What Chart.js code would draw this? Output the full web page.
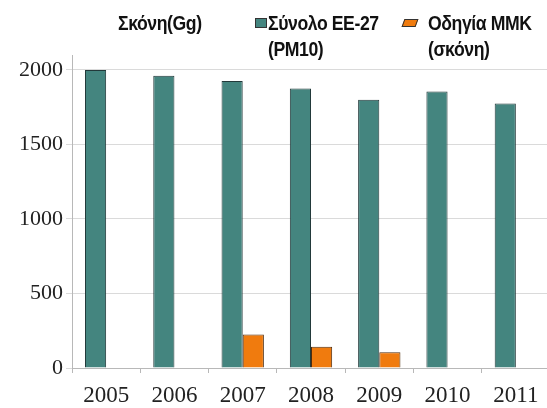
<!DOCTYPE html>
<html>
<head>
<meta charset="utf-8">
<script src="https://cdn.jsdelivr.net/npm/chart.js@4/dist/chart.umd.min.js"></script>
<style>
  html, body { margin: 0; padding: 0; background: #fff; }
  #wrap { position: relative; width: 547px; height: 408px; overflow: hidden; background: #fff; }
  #box { position: absolute; left: 0; top: 0; width: 550px; height: 408px; }
  .txt {
    position: absolute;
    font-family: "Liberation Sans", Arial, sans-serif;
    font-weight: bold;
    font-size: 21px;
    line-height: 26px;
    color: #111;
    white-space: nowrap;
    transform: scaleX(0.84);
    transform-origin: left top;
    letter-spacing: -0.5px;
  }
  .sw { position: absolute; width: 10px; height: 8px; border: 1px solid #333; }
</style>
</head>
<body>
<div id="wrap">
  <div id="box"><canvas id="chart"></canvas></div>
  <div class="txt" style="left:118px;top:10px">Σκόνη(Gg)</div>
  <div class="sw" style="left:255px;top:18px;background:#44857f"></div>
  <div class="txt" style="left:268px;top:10px">Σύνολο ΕΕ-27<br>(PM10)</div>
  <div class="sw" style="left:403px;top:19px;width:12px;height:6px;background:#f07b0e;transform:skewX(-20deg)"></div>
  <div class="txt" style="left:428px;top:10px">Οδηγία ΜΜΚ<br>(σκόνη)</div>
</div>
<script>
const years = ["2005", "2006", "2007", "2008", "2009", "2010", "2011"];
const totalEU27 = [2000, 1960, 1925, 1875, 1800, 1855, 1775];
const directiveMMK = [null, null, 225, 143, 105, null, null];
const yTicks = [0, 500, 1000, 1500, 2000];

const ctx = document.getElementById("chart");

// eslint-disable-next-line no-undef
new Chart(ctx, {
  type: "bar",
  data: {
    labels: years,
    datasets: [
      {
        label: "Σύνολο ΕΕ-27 (PM10)",
        data: totalEU27,
        backgroundColor: "#44857f",
        borderColor: "#22393a",
        borderWidth: 1,
        categoryPercentage: 0.62,
        barPercentage: 1,
      },
      {
        label: "Οδηγία ΜΜΚ (σκόνη)",
        data: directiveMMK,
        backgroundColor: "#f07b0e",
        borderColor: "#4f2c0e",
        borderWidth: 1,
        categoryPercentage: 0.62,
        barPercentage: 1,
      },
    ],
  },
  options: {
    responsive: true,
    maintainAspectRatio: false,
    animation: false,
    layout: { padding: { top: 55, right: 0, left: 0, bottom: 0 } },
    plugins: {
      legend: { display: false },
      title: { display: false },
      tooltip: { enabled: false },
    },
    scales: {
      x: {
        afterFit: (scale) => {
          scale.height = 40;
        },
        grid: {
          display: true,
          drawOnChartArea: false,
          drawTicks: true,
          tickLength: 5,
          color: "#b8b8b8",
          offset: true,
        },
        border: { color: "#b8b8b8" },
        ticks: {
          color: "#222",
          padding: 9,
          font: { family: "Liberation Serif", size: 23 },
          maxRotation: 0,
        },
      },
      y: {
        min: 0,
        max: 2100,
        afterBuildTicks: (scale) => {
          scale.ticks = yTicks.map((v) => ({ value: v }));
        },
        afterFit: (scale) => {
          scale.width = 72;
        },
        grid: { color: "#dadada", tickLength: 6 },
        border: { color: "#b8b8b8" },
        ticks: {
          color: "#222",
          padding: 3,
          font: { family: "Liberation Serif", size: 22 },
          callback: (value) => String(value),
        },
      },
    },
  },
});
</script>
</body>
</html>
